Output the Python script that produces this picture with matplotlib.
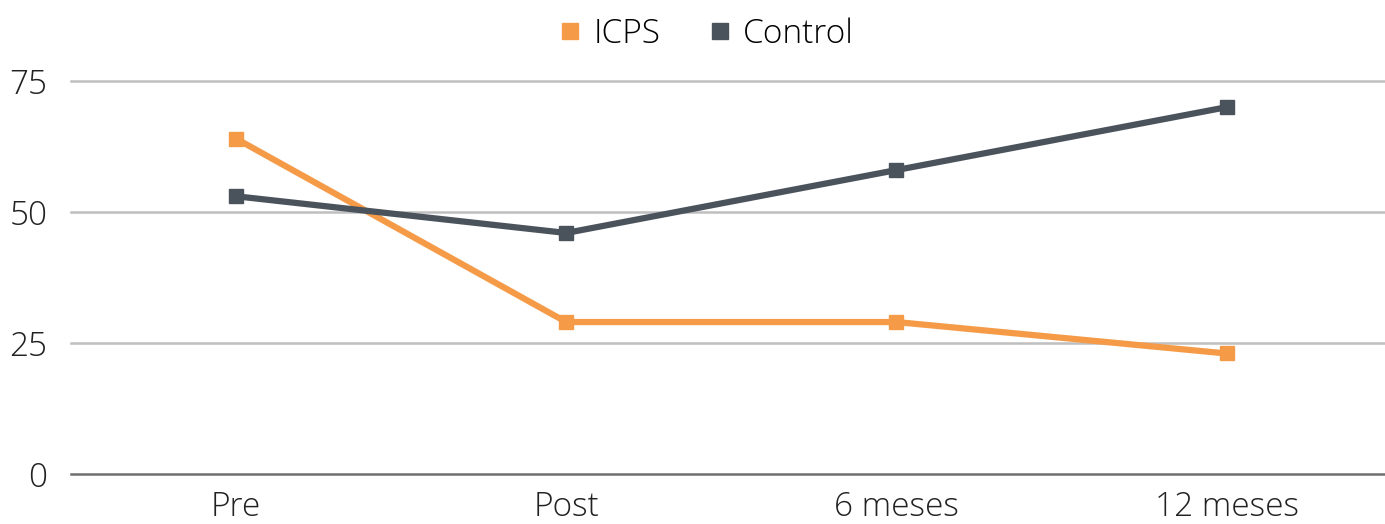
import matplotlib
matplotlib.use("Agg")
from matplotlib import pyplot as plt

categories = ["Pre", "Post", "6 meses", "12 meses"]
icps = [64, 29, 29, 23]
control = [53, 46, 58, 70]
yticks = [0, 25, 50, 75]

plt.rcParams['font.family'] = ['Open Sans', 'DejaVu Sans']

fig = plt.figure(figsize=(13.85, 5.24), dpi=100)
ax = fig.add_axes([71 / 1385, 1 - 474 / 524, 1 - 71 / 1385, (474 - 81) / 524])

x = range(len(categories))
ax.plot(x, icps, color='#F59B48', linewidth=4.5, marker='s', markersize=10,
        label='ICPS', solid_joinstyle='miter')
ax.plot(x, control, color='#4A535C', linewidth=4.5, marker='s', markersize=10,
        label='Control', solid_joinstyle='miter')

ax.set_xlim(-0.5, 3.48)
ax.set_ylim(0, 75)
ax.set_yticks(yticks)
ax.set_xticks(list(x))
ax.set_xticklabels(categories)

# gridlines
for v in yticks[1:]:
    ax.axhline(v, color='#BFBFBF', linewidth=1.8, zorder=0, clip_on=False)

for s in ['top', 'right', 'left']:
    ax.spines[s].set_visible(False)
ax.spines['bottom'].set_color('#6E6E6E')
ax.spines['bottom'].set_linewidth(1.8)

ax.tick_params(axis='both', length=0, labelsize=24, colors='#222222')
ax.tick_params(axis='y', pad=17)
ax.tick_params(axis='x', pad=12)
for lbl in ax.get_xticklabels() + ax.get_yticklabels():
    lbl.set_fontweight('light')

leg = fig.legend(loc='center', bbox_to_anchor=(707 / 1385, 1 - 34 / 524), ncol=2,
                 frameon=False, handlelength=0.6, handletextpad=0.4,
                 columnspacing=1.5, prop={'weight': 'light', 'size': 24})
for h in leg.legend_handles:
    h.set_linestyle('none')
    h.set_markersize(11)

fig.savefig('out.png', dpi=100)
